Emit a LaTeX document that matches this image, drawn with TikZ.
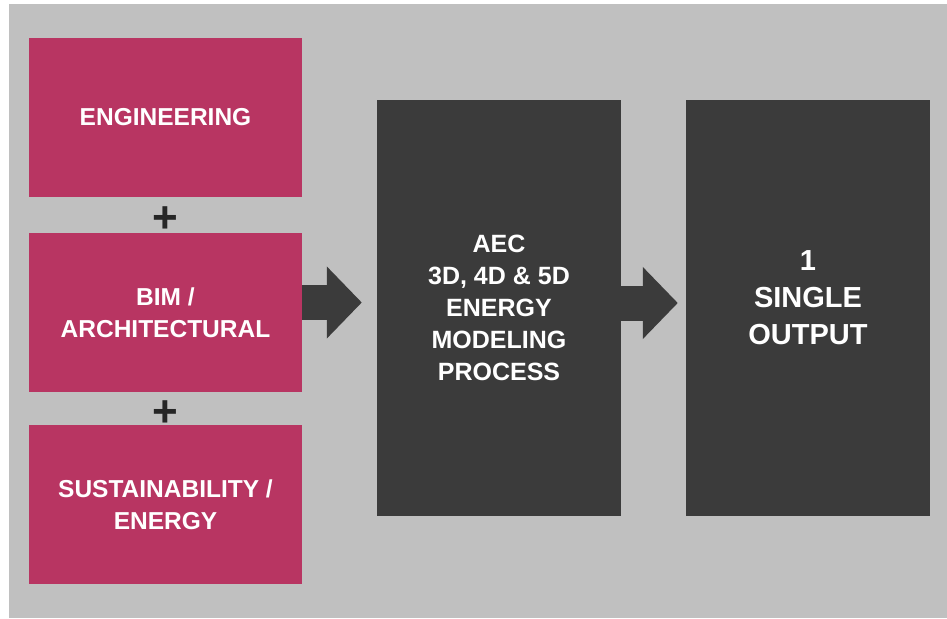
\documentclass[tikz,border=0pt]{standalone}
\usepackage{fontspec}
\setmainfont{Liberation Sans}
\usepackage{xcolor}
\usetikzlibrary{positioning}
\usetikzlibrary{arrows.meta}
\definecolor{BOX-PINK}{HTML}{B83562}
\definecolor{BOX-DARK}{HTML}{3B3B3B}
\definecolor{BACK-GRAY}{HTML}{C0C0C0}

\begin{document}
\begin{tikzpicture}[x=1pt,y=-1pt,
		inbox/.style={fill=BOX-PINK,minimum width=273pt,minimum height=159pt,inner sep=0pt,
			text=white,align=center,font=\bfseries\fontsize{24.5}{32}\selectfont},
		bigbox/.style={fill=BOX-DARK,minimum width=244pt,minimum height=416pt,inner sep=0pt,
			text=white,align=center},
		blockarrow/.style={draw=BOX-DARK,line width=35pt,-{Triangle[length=35pt,width=70pt]}},
		plussign/.style={text=black!85,font=\bfseries\fontsize{44}{44}\selectfont,inner sep=0pt}]
			% draw background
			\useasboundingbox (0,0) rectangle (947,618);
			\fill[BACK-GRAY] (9,4) rectangle (947,618);
		
			% draw input boxes
			\node (eng) at (165.5,117.5) [inbox] {ENGINEERING};
			\node (bim) at (165.5,312.5) [inbox] {BIM /\\ARCHITECTURAL};
			\node (sus) at (165.5,504.5) [inbox] {SUSTAINABILITY /\\ENERGY};
			\node (plusa) at (165.5,220) [plussign] {+};
			\node (plusb) at (165.5,414) [plussign] {+};
		
			% draw process and output
			\node (proc) at (499,308) [bigbox,font=\bfseries\fontsize{25}{32}\selectfont]
				{AEC\\3D, 4D \& 5D\\ENERGY\\MODELING\\PROCESS};
			\node (out) at (808,308) [bigbox] {};
			\node (outtxt) at ([yshift=10pt]out.center) [text=white,align=center,font=\bfseries\fontsize{29}{37}\selectfont]
				{1\\SINGLE\\OUTPUT};
		
			% draw arrows
			\draw[blockarrow,shorten >=15pt] ([yshift=10pt]bim.east) to ([yshift=10pt]bim.east -| proc.west);
			\draw[blockarrow,shorten >=8pt] ([yshift=5pt]proc.east) to ([yshift=5pt]proc.east -| out.west);
		\end{tikzpicture}
\end{document}
